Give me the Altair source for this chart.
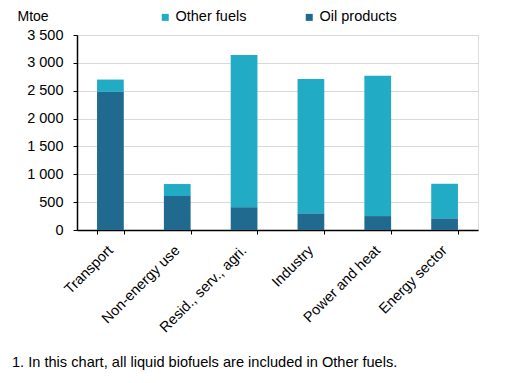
import altair as alt
import pandas as pd

categories = ["Transport", "Non-energy use", "Resid., serv., agri.", "Industry", "Power and heat", "Energy sector"]
oil_products = [2480, 610, 410, 300, 250, 210]
other_fuels = [220, 215, 2730, 2410, 2520, 620]
series = ["Other fuels", "Oil products"]
colors = ["#21abc5", "#1f6a8e"]
y_ticks = [0, 500, 1000, 1500, 2000, 2500, 3000, 3500]
footnote = "1. In this chart, all liquid biofuels are included in Other fuels."

rows = []
for c, o, f in zip(categories, oil_products, other_fuels):
    rows.append({"cat": c, "series": "Oil products", "value": o, "ord": 0})
    rows.append({"cat": c, "series": "Other fuels", "value": f, "ord": 1})
df = pd.DataFrame(rows)

FONT = "Liberation Sans"
FS = 14.5

bars = alt.Chart(df).mark_bar().encode(
    x=alt.X("cat:N", sort=categories,
            scale=alt.Scale(paddingInner=0.6, paddingOuter=0.3),
            axis=alt.Axis(title=None, labelAngle=-45, labelAlign="right", labelBaseline="middle",
                          labelFont=FONT, labelFontSize=FS,
                          labelColor="#000000", domainColor="#000000", domainWidth=1.5,
                          tickColor="#000000", tickSize=4, tickBand="extent",
                          labelPadding=14, grid=False)),
    y=alt.Y("value:Q", stack="zero",
            scale=alt.Scale(domain=[0, 3500], nice=False),
            axis=alt.Axis(values=y_ticks, title="Mtoe", titleAngle=0, titleX=-60, titleY=-19,
                          titleAlign="left", titleBaseline="middle", titleFont=FONT,
                          titleFontSize=14, titleFontWeight="normal", titleColor="#000000",
                          labelExpr="replace(format(datum.value, ','), ',', ' ')",
                          labelFont=FONT, labelFontSize=FS, labelColor="#000000",
                          labelPadding=10, domainColor="#000000", domainWidth=1.5,
                          tickColor="#000000", tickSize=4,
                          gridColor="#d9d9d9", gridWidth=1)),
    color=alt.Color("series:N",
                    scale=alt.Scale(domain=series, range=colors),
                    legend=alt.Legend(title=None, orient="none", direction="horizontal",
                                      legendX=81, legendY=-25, symbolType="square",
                                      symbolSize=49, symbolStrokeWidth=0, symbolOpacity=1,
                                      labelFont=FONT, labelFontSize=FS, labelColor="#000000",
                                      labelOffset=3, columnPadding=55, padding=0)),
    order=alt.Order("ord:Q"),
)

note = alt.Chart(pd.DataFrame({"t": [footnote]})).mark_text(
    align="left", baseline="middle", font=FONT, fontSize=14.6, color="#000000"
).encode(x=alt.value(-65), y=alt.value(328), text="t:N")

chart = alt.layer(bars, note).properties(
    width=401, height=195,
    autosize=alt.AutoSizeParams(type="none"),
    padding={"left": 69, "top": 27, "right": 30, "bottom": 140},
).configure_view(stroke=None).configure(background="#ffffff")

chart.save("out.html", embed_options={"renderer": "svg", "actions": False})
